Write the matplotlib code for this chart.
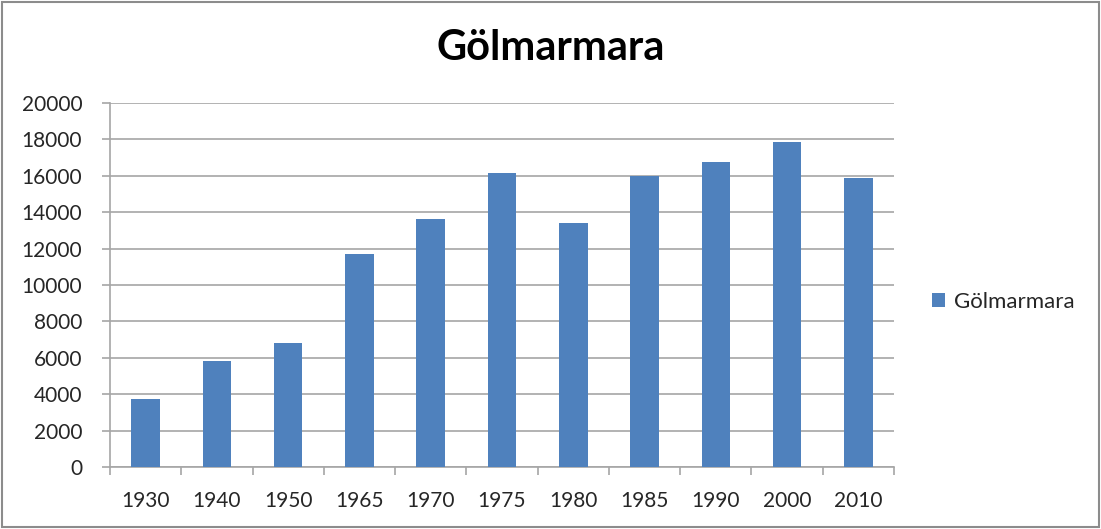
import numpy as np
import matplotlib.pyplot as plt
from matplotlib.patches import Rectangle

# donnees
years = ["1930", "1940", "1950", "1965", "1970", "1975", "1980", "1985", "1990", "2000", "2010"]
population = [3740, 5810, 6810, 11720, 13610, 16140, 13410, 15970, 16740, 17860, 15860]
series_name = "Gölmarmara"
y_ticks = [0, 2000, 4000, 6000, 8000, 10000, 12000, 14000, 16000, 18000, 20000]

BAR_COLOR = "#4f81bd"
GRID_COLOR = "#a6a6a6"

plt.rcParams["font.family"] = ["Lato", "DejaVu Sans"]

fig = plt.figure(figsize=(11.01, 5.29), dpi=100)
ax = fig.add_axes([110 / 1101, 1 - 467 / 529, 784 / 1101, 364 / 529])

x = np.arange(len(years))
ax.bar(x, population, width=0.4, color=BAR_COLOR, label=series_name, zorder=3)

ax.set_xlim(-0.5, len(years) - 0.5)
ax.set_ylim(0, 20000)
ax.set_yticks(y_ticks)
ax.set_yticklabels([str(t) for t in y_ticks])
ax.yaxis.grid(True, color=GRID_COLOR, linewidth=1.2, zorder=0)

# ticks x entre categories
ax.set_xticks(np.arange(-0.5, len(years), 1.0))
ax.set_xticklabels([])
ax.set_xticks(x, minor=True)
ax.set_xticklabels(years, minor=True)
ax.tick_params(axis="x", which="minor", length=0, pad=17, labelsize=15, labelcolor="#262626")
ax.tick_params(axis="x", which="major", length=6, color=GRID_COLOR, width=1.2)
ax.tick_params(axis="y", length=6, color=GRID_COLOR, width=1.2, labelsize=15, pad=14,
               labelcolor="#262626")

for s in ["top", "right"]:
    ax.spines[s].set_visible(False)
for s in ["left", "bottom"]:
    ax.spines[s].set_color(GRID_COLOR)
    ax.spines[s].set_linewidth(1.2)

fig.text(0.5, 1 - 48 / 529, series_name, ha="center", va="center",
         fontsize=30, fontweight="bold")

ax.legend(loc="center left", bbox_to_anchor=(912 / 1101, 1 - 302 / 529),
          bbox_transform=fig.transFigure, frameon=False, fontsize=16,
          handlelength=0.6, handleheight=0.6, handletextpad=0.4,
          labelcolor="#262626")

# cadre autour du graphique
fig.patches.append(Rectangle((0.002, 0.003), 0.996, 0.994, transform=fig.transFigure,
                             fill=False, edgecolor="#8c8c8c", linewidth=1.5))

plt.savefig("out.png", dpi=100)
